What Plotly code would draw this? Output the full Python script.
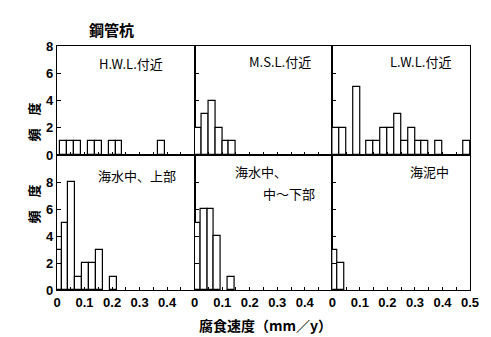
import plotly.graph_objects as go
from plotly.subplots import make_subplots

# ---- data ----
panel_titles = ["H.W.L.付近", "M.S.L.付近", "L.W.L.付近", "海水中、上部", "海水中、", "中～下部", "海泥中"]

hwl_rate = [0.025, 0.05, 0.075, 0.125, 0.15, 0.2, 0.225, 0.38]
hwl_freq = [1, 1, 1, 1, 1, 1, 1, 1]

msl_rate = [0.0125, 0.0375, 0.0625, 0.0875, 0.1125, 0.1375]
msl_freq = [2, 3, 4, 2, 1, 1]

lwl_rate = [0.0125, 0.0375, 0.0875, 0.1375, 0.1625, 0.1875, 0.2125, 0.2375,
            0.2625, 0.2875, 0.3125, 0.3375, 0.3875, 0.4875]
lwl_freq = [2, 2, 5, 1, 1, 2, 2, 3, 1, 2, 1, 1, 1, 1]

sea_upper_rate = [0.004, 0.029, 0.054, 0.079, 0.104, 0.129, 0.154, 0.204]
sea_upper_freq = [3, 5, 8, 1, 2, 2, 3, 1]

sea_lower_rate = [0.008, 0.033, 0.058, 0.083, 0.133]
sea_lower_freq = [5, 6, 6, 4, 1]

mud_rate = [0.006, 0.031]
mud_freq = [3, 2]

x_tick_vals = [0, 0.1, 0.2, 0.3, 0.4, 0.5]
x_tick_text = ["0", "0.1", "0.2", "0.3", "0.4", "0.5"]
y_tick_vals = [0, 2, 4, 6, 8]

series = [(hwl_rate, hwl_freq), (msl_rate, msl_freq), (lwl_rate, lwl_freq),
          (sea_upper_rate, sea_upper_freq), (sea_lower_rate, sea_lower_freq),
          (mud_rate, mud_freq)]

# ---- geometry ----
W, H = 491, 337
L, R, T, B = 57, 475, 46, 290
pw, ph = R - L, B - T
split = (B - 155) / ph

def fx(px):
    return (px - L) / pw

def fy(py):
    return (B - py) / ph

fig = make_subplots(rows=2, cols=3, horizontal_spacing=0, vertical_spacing=0)

for i, (xs, ys) in enumerate(series):
    r, c = i // 3 + 1, i % 3 + 1
    fig.add_trace(go.Bar(x=xs, y=ys, width=0.025,
                         marker=dict(color="white", line=dict(color="black", width=1.2)),
                         showlegend=False, hoverinfo="skip"), row=r, col=c)

tick_font = dict(family="Liberation Sans", size=13, color="black", weight="bold")

for i in range(6):
    r, c = i // 3 + 1, i % 3 + 1
    xdom = [(c - 1) / 3, c / 3]
    ydom = [split, 1] if r == 1 else [0, split]
    nt = 6 if c == 3 else 5
    fig.update_xaxes(row=r, col=c, domain=xdom, range=[0, 0.5],
                     showline=True, linecolor="black", linewidth=1.1, mirror=True,
                     showgrid=False, zeroline=False,
                     tickvals=x_tick_vals[:nt], ticktext=x_tick_text[:nt],
                     ticks="inside", ticklen=3, tickcolor="black",
                     showticklabels=(r == 2), tickfont=tick_font,
                     minor=dict(ticks="inside", dtick=0.05, tick0=0, ticklen=3, tickcolor="black"))
    fig.update_yaxes(row=r, col=c, domain=ydom,
                     range=[0, 8] if r == 1 else [0, 10],
                     showline=True, linecolor="black", linewidth=1.1, mirror=True,
                     showgrid=False, zeroline=False,
                     tickvals=y_tick_vals, ticks="inside", ticklen=4, tickcolor="black",
                     showticklabels=(c == 1), tickfont=tick_font)

ann_font = dict(family="Noto Sans CJK JP", size=13, color="black")
title_pos = [(132, 64), (283, 61), (425, 61), (138, 175), (263, 171), (292, 193), (434, 171)]
for t, (px, py) in zip(panel_titles, title_pos):
    fig.add_annotation(text=t, x=fx(px), y=fy(py), xref="paper", yref="paper",
                       showarrow=False, font=ann_font, xanchor="center", yanchor="middle")

# y-axis labels
for py in (100, 225):
    fig.add_annotation(text="頻　度", x=fx(22), y=fy(py), xref="paper", yref="paper",
                       showarrow=False, textangle=-90,
                       font=dict(family="Noto Sans CJK JP", size=13, color="black", weight="bold"))

# chart title
fig.add_annotation(text="鋼管杭", x=fx(87), y=fy(17), xref="paper", yref="paper",
                   showarrow=False,
                   font=dict(family="Noto Sans CJK JP", size=15, color="black", weight="bold"))

# x-axis title
fig.add_annotation(text="腐食速度（mm／y）", x=fx(268), y=fy(325), xref="paper", yref="paper",
                   showarrow=False, yanchor="middle",
                   font=dict(family="Noto Sans CJK JP", size=14, color="black", weight="bold"))

fig.update_layout(width=W, height=H,
                  margin=dict(l=L, r=W - R, t=T, b=H - B),
                  paper_bgcolor="white", plot_bgcolor="white",
                  bargap=0, showlegend=False)

fig.write_html("out.html")
